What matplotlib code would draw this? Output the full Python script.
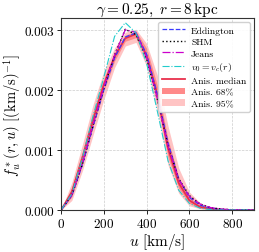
import numpy as np
import matplotlib
matplotlib.use('Agg')
import matplotlib.pyplot as plt
from matplotlib.ticker import FormatStrFormatter

plt.rcParams['font.family'] = 'serif'
plt.rcParams['font.serif'] = ['cmr10']
plt.rcParams['mathtext.fontset'] = 'cm'
plt.rcParams['axes.formatter.use_mathtext'] = True

# speed grid [km/s]
u = [0, 50, 100, 150, 200, 250, 300, 350, 400, 450, 500, 550, 600, 650, 700, 750, 800, 850, 900]

eddington = [0, .00024, .00076, .00140, .00201, .00254, .00289, .00296, .00260, .00193, .00112,
             .00052, .00021, .00008, .00003, .00001, 0, 0, 0]
shm = [0, .00025, .00077, .00142, .00204, .00259, .00302, .00293, .00252, .00185, .00108,
       .00052, .00024, .00010, .00004, .000015, .000004, 0, 0]
jeans = [0, .00025, .00079, .00144, .00206, .00259, .00301, .00297, .00255, .00186, .00107,
         .00051, .00023, .00010, .00004, .000015, .000005, 0, 0]
v0_vc = [0, .00027, .00088, .00158, .00222, .00290, .00313, .00296, .00245, .00165, .00082,
         .00033, .00011, .00003, .000005, 0, 0, 0, 0]
anis_median = [0, .00030, .00088, .00152, .00210, .00256, .00287, .00294, .00258, .00193, .00103,
               .00045, .00016, .00005, .00002, .000005, 0, 0, 0]
anis_68_lo = [0, .00022, .00078, .00141, .00199, .00249, .00282, .00288, .00250, .00178, .00088,
              .00036, .00011, .00003, .00001, 0, 0, 0, 0]
anis_68_hi = [0, .00038, .00098, .00163, .00220, .00263, .00292, .00299, .00270, .00208, .00118,
              .00055, .00021, .00008, .00003, .00001, 0, 0, 0]
anis_95_lo = [0, .00016, .00066, .00126, .00185, .00238, .00274, .00280, .00240, .00165, .00075,
              .00028, .00007, .00002, 0, 0, 0, 0, 0]
anis_95_hi = [0, .00046, .00110, .00177, .00232, .00271, .00297, .00302, .00278, .00225, .00140,
              .00070, .00030, .00012, .00005, .00002, .000005, 0, 0]

fig = plt.figure(figsize=(2.59, 2.53), dpi=100)
ax = fig.add_axes([0.236, 0.166, 0.743, 0.757])

ax.fill_between(u, anis_95_lo, anis_95_hi, color='#ffc4c4', lw=0, label='Anis. 95%')
ax.fill_between(u, anis_68_lo, anis_68_hi, color='#ff8a8a', lw=0, label='Anis. 68%')
ax.plot(u, anis_median, color='#e8304c', lw=1.3, label='Anis. median')
ax.plot(u, eddington, color='#3a3aff', ls='--', lw=0.9, label='Eddington')
ax.plot(u, shm, color='k', ls=':', lw=1.0, label='SHM')
ax.plot(u, jeans, color='#cc00cc', ls='-.', lw=0.9, label='Jeans')
ax.plot(u, v0_vc, color='#22cccc', ls='-.', lw=0.8, label=r'$v_0 = v_c(r)$')

handles, labels = ax.get_legend_handles_labels()
order = [3, 4, 5, 6, 2, 1, 0]
ax.legend([handles[i] for i in order], [labels[i] for i in order], loc='upper right',
          fontsize=7, handlelength=2.4, labelspacing=0.28, borderpad=0.4,
          handletextpad=0.6, framealpha=0.9, borderaxespad=0.35)

ax.set_xlim(0, 900)
ax.set_ylim(0, 0.0032)
ax.set_xticks([0, 200, 400, 600, 800])
ax.set_yticks([0, 0.001, 0.002, 0.003])
ax.yaxis.set_major_formatter(FormatStrFormatter('%.3f'))
ax.tick_params(labelsize=9.5, length=3, width=0.6, pad=2)
ax.grid(True, ls='--', lw=0.5, color='#cccccc')
for s in ax.spines.values():
    s.set_color('#333333')
    s.set_linewidth(0.8)

ax.set_xlabel(r'$u\ [\mathrm{km/s}]$', fontsize=11, labelpad=1)
ax.set_ylabel(r'$f^*_u(r,u)\ [(\mathrm{km/s})^{-1}]$', fontsize=10.5, labelpad=1)
ax.set_title(r'$\gamma = 0.25,\ r = 8\,\mathrm{kpc}$', fontsize=11, pad=3)

fig.savefig('out.png', dpi=100)
